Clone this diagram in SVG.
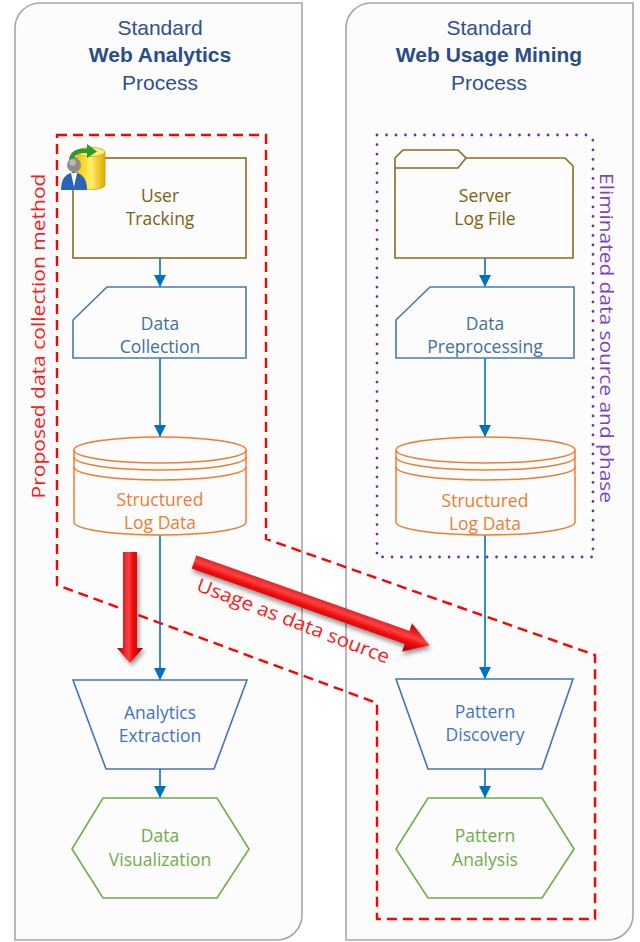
<svg xmlns="http://www.w3.org/2000/svg" width="640" height="942" viewBox="0 0 640 942">
<defs>
<style>
.panel{fill:#FCFCFC;stroke:#A6A6A6;stroke-width:1.6}
.title{font-family:"Liberation Sans","Open Sans",sans-serif;font-size:21px;fill:#2E5090;text-anchor:middle}
.tb{font-weight:bold;fill:#2B4C8A}
.lbl{font-family:"Open Sans","Lato",sans-serif;font-size:17.5px;text-anchor:middle}
.brown{fill:none;stroke:#8A6A1C;stroke-width:1.6}
.tbrown{fill:#7F6112}
.steel{fill:none;stroke:#4A78A8;stroke-width:1.6}
.tsteel{fill:#41719C}
.orange{fill:none;stroke:#ED7D31;stroke-width:1.5}
.torange{fill:#ED7D31}
.blue{fill:none;stroke:#4472C4;stroke-width:1.6}
.tblue{fill:#4472C4}
.green{fill:none;stroke:#70AD47;stroke-width:1.6}
.tgreen{fill:#70AD47}
.conn{fill:none;stroke:#0070C0;stroke-width:1.6}
.reddash{fill:none;stroke:#FF0000;stroke-width:2.4;stroke-dasharray:10 6}
.purpdot{fill:none;stroke:#7030A0;stroke-width:2.8;stroke-linecap:round;stroke-dasharray:0 9.5}
.side{font-family:"Open Sans","Lato",sans-serif;font-size:19px;text-anchor:middle}
</style>
<marker id="ah" viewBox="0 0 10 10" refX="10" refY="5" markerWidth="12" markerHeight="12" markerUnits="userSpaceOnUse" orient="auto">
<path d="M0,0 L10,5 L0,10 Z" fill="#0070C0"/>
</marker>
<linearGradient id="gv" x1="0" y1="0" x2="1" y2="0">
<stop offset="0" stop-color="#B00000"/>
<stop offset="0.45" stop-color="#FF4040"/>
<stop offset="0.6" stop-color="#F01010"/>
<stop offset="1" stop-color="#A00000"/>
</linearGradient>
<linearGradient id="gd" x1="0" y1="0" x2="0" y2="1">
<stop offset="0" stop-color="#B00000"/>
<stop offset="0.45" stop-color="#FF4040"/>
<stop offset="0.6" stop-color="#F01010"/>
<stop offset="1" stop-color="#A00000"/>
</linearGradient>
<linearGradient id="gy" x1="0" y1="0" x2="1" y2="0">
<stop offset="0" stop-color="#F5C400"/>
<stop offset="0.5" stop-color="#FFF06A"/>
<stop offset="1" stop-color="#E0A800"/>
</linearGradient>
<filter id="sh" x="-20%" y="-20%" width="140%" height="140%">
<feGaussianBlur in="SourceAlpha" stdDeviation="2"/>
<feOffset dx="2" dy="3" result="o"/>
<feComponentTransfer><feFuncA type="linear" slope="0.4"/></feComponentTransfer>
<feMerge><feMergeNode/><feMergeNode in="SourceGraphic"/></feMerge>
</filter>
</defs>

<g id="panel-left">
<path class="panel" d="M15,28 A25,25 0 0,1 40,3 H302 V915 A25,25 0 0,1 277,940 H15 Z"/>
<text class="title" x="160" y="35">Standard</text>
<text class="title tb" x="160" y="62">Web Analytics</text>
<text class="title" x="160" y="90">Process</text>
</g>
<g id="panel-right">
<path class="panel" d="M346,28 A25,25 0 0,1 371,3 H633 V915 A25,25 0 0,1 608,940 H346 Z"/>
<text class="title" x="489" y="35">Standard</text>
<text class="title tb" x="489" y="62">Web Usage Mining</text>
<text class="title" x="489" y="90">Process</text>
</g>

<g id="region-proposed">
<path class="reddash" d="M57,135 H266 V539 L595,655 V919 H377 V703 L57,585 Z"/>
<text class="side" fill="#FF1A1A" transform="translate(45,336) rotate(-90)" x="0" y="0" textLength="325" lengthAdjust="spacingAndGlyphs">Proposed data collection method</text>
</g>
<g id="region-eliminated">
<path class="purpdot" d="M377,135 H586 Q593,135 593,142 V557 H377 Z"/>
<text class="side" fill="#7A45BE" transform="translate(600,338) rotate(90)" x="0" y="0" textLength="330" lengthAdjust="spacingAndGlyphs">Eliminated data source and phase</text>
</g>

<g id="connectors">
<line class="conn" x1="160" y1="258" x2="160" y2="287" marker-end="url(#ah)"/>
<line class="conn" x1="160" y1="358" x2="160" y2="437" marker-end="url(#ah)"/>
<line class="conn" x1="160" y1="535" x2="160" y2="680" marker-end="url(#ah)"/>
<line class="conn" x1="160" y1="769" x2="160" y2="798" marker-end="url(#ah)"/>
<line class="conn" x1="485" y1="258" x2="485" y2="287" marker-end="url(#ah)"/>
<line class="conn" x1="485" y1="358" x2="485" y2="437" marker-end="url(#ah)"/>
<line class="conn" x1="485" y1="535" x2="485" y2="679" marker-end="url(#ah)"/>
<line class="conn" x1="485" y1="769" x2="485" y2="798" marker-end="url(#ah)"/>
</g>

<g id="user-tracking">
<rect class="brown" x="73" y="158" width="173" height="100"/>
<text class="lbl tbrown" x="160" y="202">User</text>
<text class="lbl tbrown" x="160" y="225">Tracking</text>
<g id="user-icon">
<path d="M77,152 V185 A14,4.5 0 0,0 105,185 V152 Z" fill="url(#gy)" stroke="#D4A000" stroke-width="0.8"/>
<ellipse cx="91" cy="152" rx="14" ry="4.5" fill="#FFF27A" stroke="#D4A000" stroke-width="0.8"/>
<path d="M71,162 Q71,149 89,151" fill="none" stroke="#2E9A2E" stroke-width="4.5"/>
<path d="M87,144 L97,151.5 L87,158 Z" fill="#2E9A2E"/>
<path d="M61,190 Q61,174 74,172 Q87,174 87,190 Z" fill="#2A63B8"/>
<path d="M71,173 L74,187 L77,173 Z" fill="#FFFFFF"/>
<circle cx="74" cy="165" r="7" fill="#8C8C8C"/>
<circle cx="72.5" cy="162.5" r="3.2" fill="#B8B8B8"/>
</g>
</g>

<g id="data-collection">
<path class="steel" d="M107,287 H246 V358 H73 V320 Z"/>
<text class="lbl tsteel" x="160" y="330">Data</text>
<text class="lbl tsteel" x="160" y="353">Collection</text>
</g>

<g id="structured-log-left">
<path class="orange" d="M74,450 A86,13 0 0,1 246,450 V522 A86,13 0 0,1 74,522 Z"/>
<path class="orange" d="M74,450 A86,13 0 0,0 246,450 M74,457 A86,13 0 0,0 246,457 M74,467 A86,13 0 0,0 246,467"/>
<text class="lbl torange" x="160" y="506">Structured</text>
<text class="lbl torange" x="160" y="529">Log Data</text>
</g>

<g id="analytics-extraction">
<path class="blue" d="M73,680 H247 L214,769 H106 Z"/>
<text class="lbl tblue" x="160" y="719">Analytics</text>
<text class="lbl tblue" x="160" y="742">Extraction</text>
</g>

<g id="data-visualization">
<path class="green" d="M103,798 H217 L249,849 L217,898 H103 L72,849 Z"/>
<text class="lbl tgreen" x="160" y="842">Data</text>
<text class="lbl tgreen" x="160" y="866">Visualization</text>
</g>

<g id="server-log-file">
<path class="brown" d="M395,258 V158 L403,150 H458 L466,158 H565 L573,166 V258 Z"/>
<path class="brown" d="M395,168 H458 L466,158"/>
<text class="lbl tbrown" x="485" y="202">Server</text>
<text class="lbl tbrown" x="485" y="225">Log File</text>
</g>

<g id="data-preprocessing">
<path class="steel" d="M430,287 H574 V358 H396 V320 Z"/>
<text class="lbl tsteel" x="485" y="330">Data</text>
<text class="lbl tsteel" x="485" y="353">Preprocessing</text>
</g>

<g id="structured-log-right">
<path class="orange" d="M396,450 A89.5,13 0 0,1 575,450 V522 A89.5,13 0 0,1 396,522 Z"/>
<path class="orange" d="M396,450 A89.5,13 0 0,0 575,450 M396,457 A89.5,13 0 0,0 575,457 M396,467 A89.5,13 0 0,0 575,467"/>
<text class="lbl torange" x="485" y="507">Structured</text>
<text class="lbl torange" x="485" y="530">Log Data</text>
</g>

<g id="pattern-discovery">
<path class="blue" d="M396,679 H573 L542,769 H428 Z"/>
<text class="lbl tblue" x="485" y="718">Pattern</text>
<text class="lbl tblue" x="485" y="741">Discovery</text>
</g>

<g id="pattern-analysis">
<path class="green" d="M428,798 H542 L574,849 L542,898 H428 L396,849 Z"/>
<text class="lbl tgreen" x="485" y="842">Pattern</text>
<text class="lbl tgreen" x="485" y="866">Analysis</text>
</g>

<g id="usage-arrows">
<path d="M123,552 H137 V648 H143 L130,663 L117,648 H123 Z" fill="url(#gv)" filter="url(#sh)"/>
<g transform="translate(194,562) rotate(19.5)">
<path d="M0,-7 H226 V-15 L250,0 L226,15 V7 H0 Z" fill="url(#gd)" filter="url(#sh)"/>
</g>
<text class="side" fill="#FF1A1A" font-size="18" transform="translate(291,627) rotate(21)" x="0" y="0" textLength="205" lengthAdjust="spacingAndGlyphs">Usage as data source</text>
</g>
</svg>
